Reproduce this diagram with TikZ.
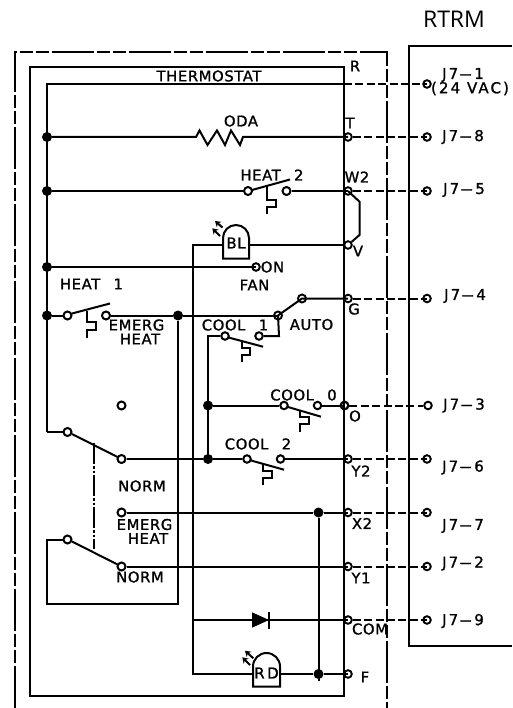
\documentclass[tikz,border=0pt]{standalone}
\usepackage{fontspec}
\usepackage{graphicx}
\usetikzlibrary{arrows.meta}
\newfontfamily\lblfam[LetterSpace=4,FakeBold=1.2]{DejaVu Sans}
\newfontfamily\jfam[LetterSpace=14,FakeBold=1.2]{DejaVu Sans}
\newfontfamily\titlefam{Open Sans}
\newcommand{\jd}{\kern.5pt\scalebox{2.6}[1]{-}\kern1.5pt}
\tikzset{
  wire/.style={line width=2pt},
  dashwire/.style={line width=2pt,dash pattern=on 8pt off 3.4pt},
  outerline/.style={line width=2pt,dash pattern=on 42pt off 3pt on 13pt off 3pt on 13pt off 3pt},
  link/.style={line width=2pt,dash pattern=on 21pt off 2pt on 2.5pt off 2pt on 2.5pt off 2pt},
  contact/.style={circle,draw,line width=2pt,inner sep=0pt,minimum size=8pt},
  term/.style={circle,draw,line width=1.9pt,inner sep=0pt,minimum size=7.6pt},
  junction/.style={circle,fill=black,inner sep=0pt,minimum size=10pt},
  lbl/.style={inner sep=0pt,font=\lblfam\fontsize{14.8}{16}\selectfont},
  jlbl/.style={inner sep=0pt,font=\jfam\fontsize{15}{16}\selectfont},
  ledray/.style={line width=2pt,-{Stealth[length=5.5pt,width=7pt]}},
}
\begin{document}
\begin{tikzpicture}[x=1pt,y=-1pt]
\useasboundingbox (0,0) rectangle (512,708);
\fill[white] (0,0) rectangle (512,708);
% frames
\draw[outerline] (14.5,708) -- (14.5,52) -- (387,52) -- (387,708);
\draw[wire] (30,67) rectangle (344,696);
\draw[wire] (512,46) -- (409,46) -- (409,646) -- (512,646);
% terminals on thermostat
\coordinate (R) at (344,84);
\node[term] (T) at (348,137) {};
\node[term] (W2) at (348,191) {};
\node[term] (V) at (348,245) {};
\node[term] (G) at (348,298.5) {};
\node[term,line width=2.2pt] (O) at (344.5,405.5) {};
\node[term] (Y2) at (348,459) {};
\node[term] (X2) at (348,512.5) {};
\node[term] (Y1) at (348,566.5) {};
\node[term] (COM) at (348,620) {};
\node[term] (F) at (348,674) {};
% RTRM terminals
\node[term] (J1) at (427,84) {};
\node[term] (J8) at (427,137) {};
\node[term] (J5) at (427,191) {};
\node[term] (J4) at (427,298.5) {};
\node[term] (J3) at (428,405.5) {};
\node[term] (J6) at (427,459) {};
\node[term] (J7) at (427,512.5) {};
\node[term] (J2) at (427,566.5) {};
\node[term] (J9) at (427,620) {};
% dashed field wiring
\draw[dashwire] (R) -- (J1.center);
\draw[dashwire] (T) -- (J8.center);
\draw[dashwire] (W2) -- (J5.center);
\draw[dashwire] (G) -- (J4.center);
\draw[dashwire] (O) -- (J3);
\draw[dashwire] (Y2) -- (J6.center);
\draw[dashwire] (X2) -- (J7.center);
\draw[dashwire] (Y1) -- (J2.center);
\draw[dashwire] (COM) -- (J9.center);
% main bus
\node[junction] (b1) at (47,137) {};
\node[junction] (b2) at (47,191) {};
\node[junction] (b3) at (47,267) {};
\node[junction] (b4) at (47,315.5) {};
\coordinate (Rl) at (47,84);
\coordinate (S1) at (47,432);
\draw[wire] (R) -- (Rl) -- (S1);
% ODA
\coordinate (Za) at (196,137);
\coordinate (Zb) at (243,137);
\draw[wire] (b1) -- (Za) -- (199.5,130.5) -- (207.5,145) -- (217,130.5) -- (225,145) -- (231,130.5) -- (240,145) -- (Zb) -- (T.center);
% HEAT 2
\node[contact] (h2a) at (248,191) {};
\node[contact] (h2b) at (286.5,191) {};
\draw[wire] (b2) -- (h2a);
\draw[wire] (h2b) -- (W2.center);
\draw[wire] (252,190) -- (290,179.5);
\draw[wire] (267,186) -- (267,200) -- (275.7,200) -- (275.7,207) -- (267,207) -- (267,214.5);
% jumper
\draw[wire] (W2.center) -- (359.5,201.7) -- (359.5,235) -- (V);
% BL LED
\node[inner sep=0pt,font=\lblfam\fontsize{15}{16}\selectfont] (BL) at (236,243) {BL};
\coordinate (BLl) at (223,245);
\coordinate (BLr) at (249,245);
\draw[wire] (223,258.5) -- (223,238) arc[start angle=180,end angle=360,radius=13] -- (249,258.5) -- cycle;
\draw[wire] (BLr) -- (V);
\draw[ledray] (222.5,227.5) -- (215,221);
\draw[ledray] (220,236) -- (212.3,228.3);
% control bus
\coordinate (Fb) at (192.5,674);
\coordinate (Ft) at (192.5,245);
\coordinate (Dl) at (192.5,620);
\draw[wire] (BLl) -- (Ft) -- (Fb) -- (253,674);
% FAN ON
\node[term] (fon) at (256,267) {};
\draw[wire] (b3) -- (fon.center);
% HEAT 1
\node[contact] (h1a) at (67.5,315.5) {};
\node[contact] (h1b) at (106,315.5) {};
\node[junction] (j178) at (178,315.5) {};
\node[term,minimum size=8pt] (acom) at (278,315.5) {};
\node[term,minimum size=8pt] (aup) at (302,298.5) {};
\draw[wire] (b4) -- (h1a);
\draw[wire] (h1b) -- (j178) -- (acom.center);
\draw[wire] (72,313.5) -- (110,303.5);
\draw[wire] (87,311) -- (87,322) -- (95.5,322) -- (95.5,330) -- (87,330) -- (87,338);
% AUTO
\draw[wire] (acom.center) -- (aup.center) -- (G.center);
% COOL 1
\node[contact,minimum size=7.5pt] (c1a) at (225,336) {};
\node[contact,minimum size=7.5pt] (c1b) at (259,336) {};
\coordinate (c1c) at (279,336);
\coordinate (c1d) at (208,336);
\draw[wire] (c1b) -- (c1c) -- (acom.center);
\draw[wire] (228.5,337.5) -- (263,346.7);
\draw[wire] (242,341) -- (242,348) -- (250,348) -- (250,355) -- (242,355) -- (242,362);
% COOL 0
\node[junction] (j2080) at (208,405.5) {};
\node[contact,minimum size=7.5pt] (c0a) at (284,405.5) {};
\node[contact,minimum size=7.5pt] (c0b) at (317.5,405.5) {};
\draw[wire] (j2080) -- (c0a);
\draw[wire] (c0b) -- (O.center);
\draw[wire] (288,407) -- (321,416.7);
\draw[wire] (300,411) -- (300,417) -- (308.5,417) -- (308.5,424) -- (300,424) -- (300,432);
% COOL 2
\node[junction] (j2082) at (208,459) {};
\node[contact,minimum size=7.5pt] (c2a) at (247,459) {};
\node[contact,minimum size=7.5pt] (c2b) at (280.5,459) {};
\draw[wire] (c1a) -- (c1d) -- (j2082);
\draw[wire] (j2082) -- (c2a);
\draw[wire] (c2b) -- (Y2.center);
\draw[wire] (251,460.5) -- (284,469.7);
\draw[wire] (263,464) -- (263,471) -- (271.5,471) -- (271.5,478) -- (263,478) -- (263,485);
% selector switches
\node[contact] (s1a) at (67.5,432) {};
\node[contact] (s1f) at (121.5,405.5) {};
\node[contact] (s1b) at (121.5,459) {};
\node[contact] (s2a) at (67.5,539.5) {};
\node[contact] (s2e) at (121.5,512.5) {};
\node[contact] (s2b) at (121.5,566.5) {};
\coordinate (s2l) at (47,539.5);
\coordinate (s2bl) at (47,604);
\coordinate (s2br) at (178,604);
\draw[wire] (S1) -- (s1a);
\draw[wire] (72,434) -- (117.5,457);
\draw[wire] (72,541.5) -- (117.5,564.5);
\draw[link] (94,443) -- (94,549);
\draw[wire] (s1b) -- (j2082);
\draw[wire] (s2a) -- (s2l) -- (s2bl) -- (s2br) -- (j178);
\node[junction] (j318a) at (318.5,512.5) {};
\node[junction] (j318b) at (318.5,674) {};
\draw[wire] (s2e) -- (j318a) -- (X2.center);
\draw[wire] (s2b) -- (Y1.center);
\draw[wire] (j318a) -- (318.5,681);
% diode
\draw[wire] (Dl) -- (COM.center);
\draw[fill=black,line width=.8pt] (252.5,613) -- (268,620) -- (252.5,627) -- cycle;
\draw[wire] (268.5,611.5) -- (268.5,628.5);
% RD LED
\node[inner sep=0pt,font=\lblfam\fontsize{15}{16}\selectfont] (RD) at (266.5,673) {R\,D};
\coordinate (RDr) at (280,674);
\draw[wire] (253,686.5) -- (253,666.5) arc[start angle=180,end angle=360,radius=13.5] -- (280,686.5) -- cycle;
\draw[wire] (RDr) -- (j318b) -- (F.center);
\draw[ledray] (253.3,658.3) -- (245,650.7);
\draw[ledray] (250,665) -- (242.3,657.3);
% labels
\node[inner sep=0pt,font=\titlefam\fontsize{23}{25}\selectfont] (rtrm) at (454,19) {RTRM};
\node[lbl] (lth) at (209,76) {THERMOSTAT};
\node[lbl] (loda) at (241,121) {ODA};
\node[lbl] (lh2) at (272,175) {HEAT \hspace{8pt}2};
\node[lbl] (lh1) at (91.5,284) {HEAT \hspace{8pt}1};
\node[lbl] (lon) at (272.5,267) {ON};
\node[lbl] (lfan) at (254.5,285) {FAN};
\node[lbl] (lauto) at (311.5,324.5) {AUTO};
\node[lbl] (lc1) at (235,325) {COOL \hspace{8pt}1};
\node[lbl] (lc0) at (303.5,395) {COOL \hspace{8pt}0};
\node[lbl] (lc2) at (258,444) {COOL \hspace{8pt}2};
\node[lbl] (lem1) at (136.5,325) {EMERG};
\node[lbl] (lem1b) at (140,339) {HEAT};
\node[lbl] (ln1) at (142,486) {NORM};
\node[lbl] (lem2) at (144.5,524.5) {EMERG};
\node[lbl] (lem2b) at (148,538.5) {HEAT};
\node[lbl] (ln2) at (140,577) {NORM};
\node[lbl] (tR) at (355,66) {R};
\node[lbl] (tT) at (350,123) {T};
\node[lbl] (tW) at (357,177) {W2};
\node[lbl] (tV) at (358,251) {V};
\node[lbl] (tG) at (354,309) {G};
\node[lbl] (tO) at (355,416) {O};
\node[lbl] (tY2) at (361,471) {Y2};
\node[lbl] (tX2) at (362,523.5) {X2};
\node[lbl] (tY1) at (361,578) {Y1};
\node[lbl] (tC) at (370,629) {COM};
\node[lbl] (tF) at (365,677) {F};
\node[jlbl] (n1) at (463,75) {J7\jd 1};
\node[jlbl] (n1b) at (470,88.5) {(24 VAC)};
\node[jlbl] (n8) at (463,137) {J7\jd 8};
\node[jlbl] (n5) at (464,190) {J7\jd 5};
\node[jlbl] (n4) at (465,296) {J7\jd 4};
\node[jlbl] (n3) at (464,405.5) {J7\jd 3};
\node[jlbl] (n6) at (463,467.5) {J7\jd 6};
\node[jlbl] (n7) at (463,526) {J7\jd 7};
\node[jlbl] (n2) at (463,563.5) {J7\jd 2};
\node[jlbl] (n9) at (463,621) {J7\jd 9};
\end{tikzpicture}
\end{document}
